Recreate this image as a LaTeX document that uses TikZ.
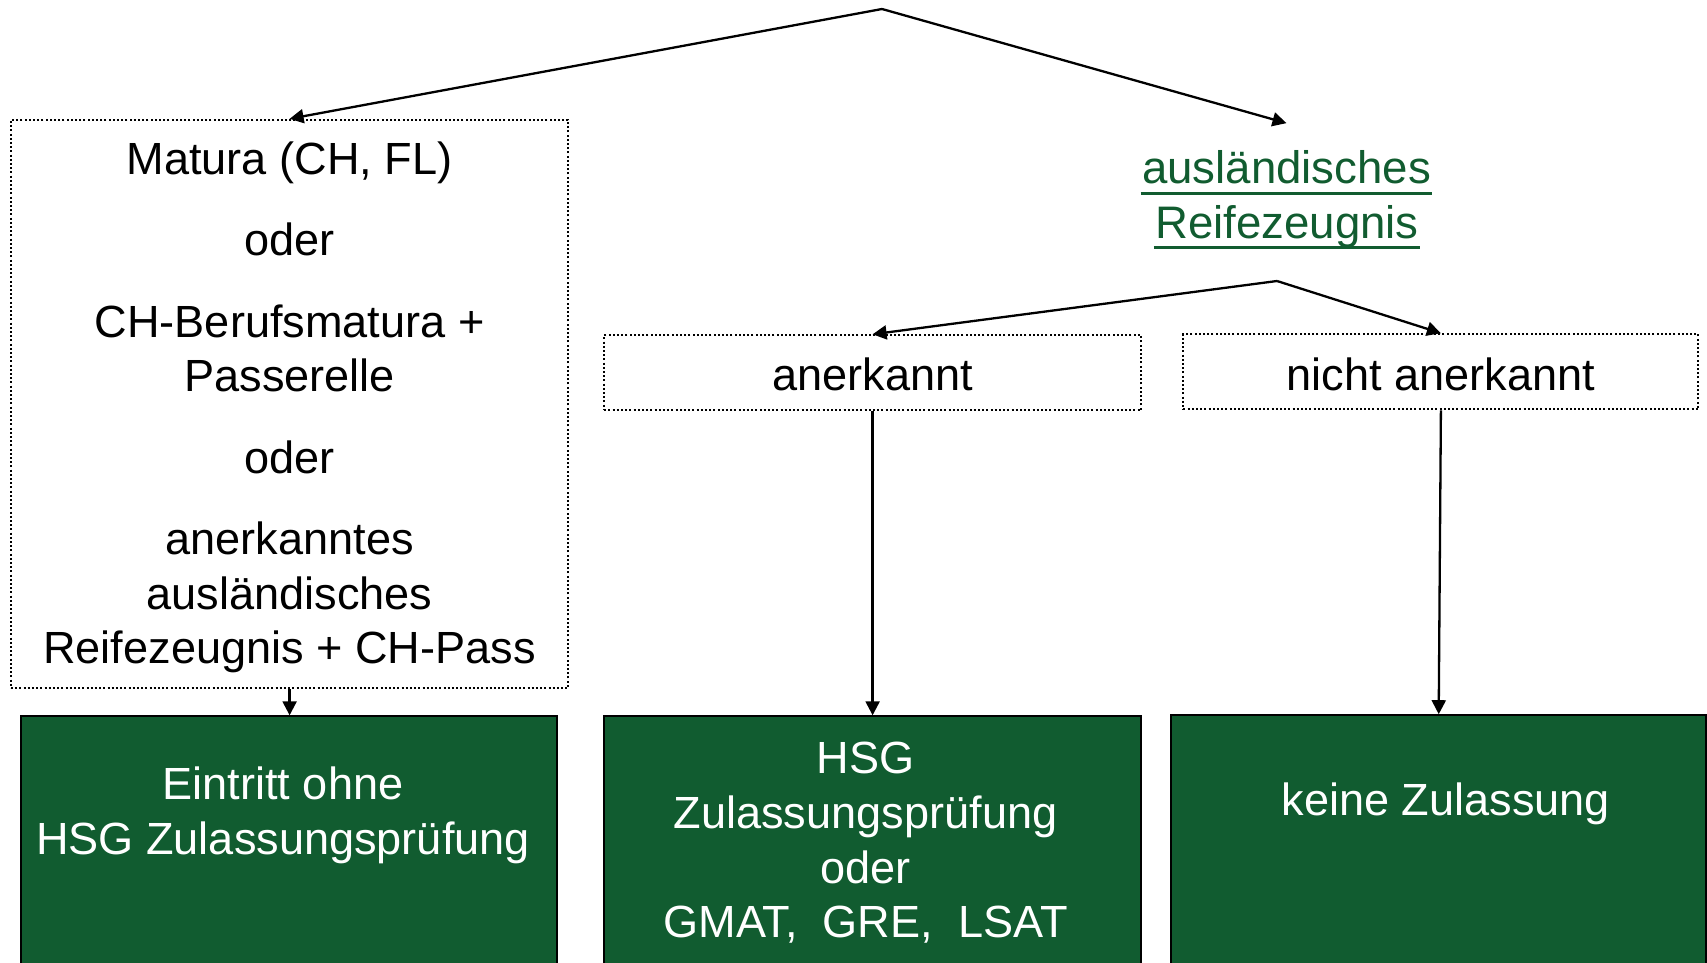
\documentclass[tikz,border=0pt]{standalone}
\usepackage{fontspec}
\setmainfont{Liberation Sans}
\usetikzlibrary{arrows.meta}
\definecolor{hsggreen}{RGB}{17,92,48}
\begin{document}
\begin{tikzpicture}[x=0.5pt,y=-0.5pt,
  mainfont/.style={font=\fontsize{22.55}{27.2}\selectfont},
  dotbox/.style={draw=black, line width=1pt, dash pattern=on 1pt off 1.1pt, inner sep=0pt, mainfont, align=center},
  btext/.style={mainfont, align=center, inner sep=0pt},
  gbox/.style={draw=black, line width=1pt, fill=hsggreen, inner sep=0pt, anchor=north},
  gtext/.style={text=white, mainfont, align=center, inner sep=0pt},
  utext/.style={text=hsggreen, font=\fontsize{22.8}{27.2}\selectfont, inner sep=0pt, anchor=base},
  uline/.style={draw=hsggreen, line width=1.6pt},
  arr/.style={draw=black, line width=1.15pt, -{Triangle[length=7pt,width=7pt]}}]
\useasboundingbox (0,0) rectangle (1707,963);
\clip (0,0) rectangle (1707,963);

% coordinates of branch points
\coordinate (apex) at (882,9);
\coordinate (apex2) at (1277,281);

% left dotted box
\node[dotbox, minimum width=278.7pt, minimum height=284.1pt] (lbox) at (289.6,403.9) {};
\node[btext] (ltext) at (289.6,407.2)
  {Matura (CH, FL)\\[13.6pt] oder\\[13.6pt] CH-Berufsmatura +\\ Passerelle\\[13.6pt] oder\\[13.6pt] anerkanntes\\ ausländisches\\ Reifezeugnis + CH-Pass};

% underlined heading
\node[utext] (ausl1) at (1286.5,183.8) {ausländisches};
\node[utext] (ausl2) at (1287,238) {Reifezeugnis};
\draw[uline] ([xshift=-0.5pt,yshift=-4.8pt]ausl1.base west) -- ([xshift=0.5pt,yshift=-4.8pt]ausl1.base east);
\draw[uline] ([xshift=-0.5pt,yshift=-4.6pt]ausl2.base west) -- ([xshift=0.5pt,yshift=-4.6pt]ausl2.base east);

% small dotted boxes
\node[dotbox, minimum width=268.4pt, minimum height=37.55pt] (abox) at (872.6,372.85) {};
\node[btext] (atext) at (872.6,374.2) {anerkannt};
\node[dotbox, minimum width=257.5pt, minimum height=37.6pt] (nbox) at (1440.9,371.8) {};
\node[btext] (ntext) at (1440.9,374.2) {nicht anerkannt};

% green boxes
\node[gbox, minimum width=268.35pt, minimum height=150pt] (gb1) at (289.05,715.3) {};
\node[gbox, minimum width=268.4pt, minimum height=150pt] (gb2) at (872.6,715.3) {};
\node[gbox, minimum width=267.3pt, minimum height=150pt] (gb3) at (1438.7,714.2) {};

\node[gtext] (gt1) at (283,815.2) {Eintritt ohne\\ HSG Zulassungsprüfung};
\node[gtext, font=\fontsize{22.55}{27.4}\selectfont] (gt2) at (865.5,842.8) {HSG\\ Zulassungsprüfung\\ oder\\ GMAT,\ \ GRE,\ \ LSAT};
\node[gtext] (gt3) at (1445.8,804) {keine Zulassung};

% connectors
\draw[arr] (apex) -- (lbox.north);
\draw[arr] (apex) -- ([yshift=13.6pt]ausl1.north);
\draw[arr] (apex2) -- (abox.north);
\draw[arr] (apex2) -- (nbox.north);
\draw[arr] (lbox.south) -- (lbox.south |- gb1.north);
\draw[arr] (abox.south) -- (gb2.north);
\draw[arr] (nbox.south) -- (gb3.north);
\end{tikzpicture}
\end{document}
